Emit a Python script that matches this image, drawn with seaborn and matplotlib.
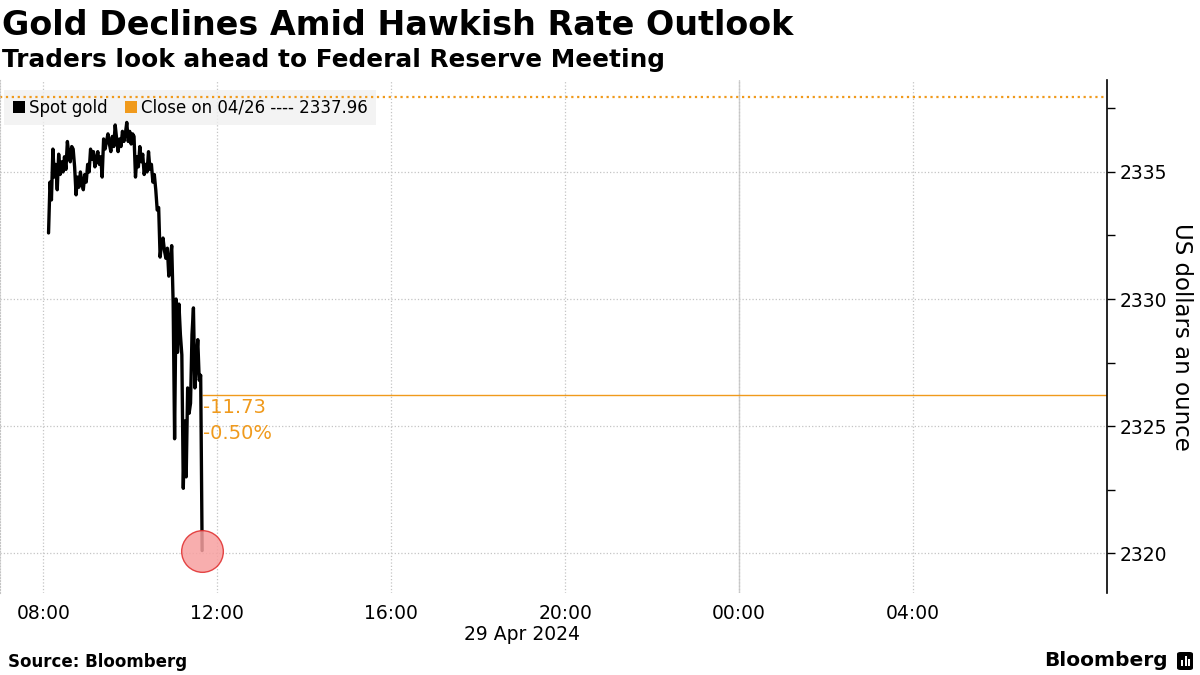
import datetime as dt
import matplotlib
matplotlib.use('Agg')
import matplotlib.pyplot as plt
import matplotlib.dates as mdates
from matplotlib.patches import Patch, FancyBboxPatch, Rectangle
import seaborn as sns

# --- data (spot gold, 2-minute steps from 08:07) ---
gold = [
    2332.6, 2334.6, 2333.9, 2335.9, 2334.8, 2335.3, 2334.3, 2335.7, 2334.9, 2335.4,
    2335.0, 2335.6, 2335.1, 2336.2, 2335.7, 2335.4, 2336.0, 2335.9, 2335.2, 2334.1,
    2334.8, 2334.4, 2335.0, 2334.6, 2334.3, 2334.9, 2334.6, 2335.3, 2335.0, 2335.9,
    2335.5, 2335.8, 2335.2, 2335.5, 2335.8, 2335.3, 2335.6, 2334.8, 2336.3, 2335.9,
    2336.2, 2336.5, 2336.1, 2335.8, 2336.4, 2336.0, 2336.85, 2336.3, 2335.8, 2336.3,
    2336.0, 2336.6, 2336.2, 2336.5, 2336.95, 2336.2, 2336.6, 2336.1, 2336.5, 2336.4,
    2334.8, 2335.6, 2335.2, 2336.0, 2335.4, 2335.7, 2334.9, 2335.3, 2335.0, 2335.8,
    2335.1, 2335.3, 2334.6, 2334.9, 2334.3, 2333.5, 2333.6, 2331.65, 2332.2, 2332.4,
    2331.9, 2331.6, 2332.0, 2330.9, 2331.5, 2332.1, 2329.85, 2324.5, 2330.0, 2327.9,
    2329.8, 2328.6, 2327.8, 2322.55, 2325.2, 2323.0, 2326.5, 2325.5, 2325.9, 2328.6,
    2329.65, 2326.5, 2327.5, 2328.4, 2326.8, 2327.0, 2320.1,
]
start_time = dt.datetime(2024, 4, 29, 8, 7)
step_minutes = 2
prev_close = 2337.96
change_level = 2326.23
change_abs = '-11.73'
change_pct = '-0.50%'

x_ticks = [dt.datetime(2024, 4, 29, h) for h in (8, 12, 16, 20)] + \
          [dt.datetime(2024, 4, 30, h) for h in (0, 4)]
y_major = [2320, 2325, 2330, 2335]
y_minor = [2322.5, 2327.5, 2332.5, 2337.5]

times = [start_time + dt.timedelta(minutes=step_minutes * i) for i in range(len(gold))]
x_min = dt.datetime(2024, 4, 29, 7, 0)
x_max = dt.datetime(2024, 4, 30, 8, 28)

ORANGE = '#f09a1c'

sns.set_style('white')
plt.rcParams['font.family'] = ['DejaVu Sans']
plt.rcParams['text.color'] = 'black'
plt.rcParams['axes.labelcolor'] = 'black'
plt.rcParams['xtick.color'] = 'black'
plt.rcParams['ytick.color'] = 'black'

fig = plt.figure(figsize=(12, 6.75), dpi=100)
ax = fig.add_axes([0.0, 0.1215, 0.9225, 0.76])

# grid
ax.grid(True, which='major', linestyle=':', color='#c4c4c4', linewidth=0.9)
ax.axvline(dt.datetime(2024, 4, 30, 0), color='#d0d0d0', linewidth=1.0, zorder=0.5)

sns.lineplot(x=times, y=gold, ax=ax, color='black', linewidth=2.4, zorder=3)

ax.axhline(prev_close, color=ORANGE, linestyle=':', linewidth=1.6, zorder=2)
ax.hlines(change_level, times[-1], x_max, color=ORANGE, linewidth=1.0, zorder=2)
ax.scatter([times[-1]], [gold[-1]], s=900, facecolor='#f7a0a0', edgecolor='#e02a2a',
           linewidth=1.0, alpha=0.85, zorder=4)

ax.text(times[-1] + dt.timedelta(minutes=1), change_level - 0.5, change_abs,
        color=ORANGE, fontsize=14, va='center', ha='left')
ax.text(times[-1] + dt.timedelta(minutes=1), change_level - 1.52, change_pct,
        color=ORANGE, fontsize=14, va='center', ha='left')

ax.set_xlim(x_min, x_max)
ax.set_ylim(2318.43, 2338.62)

ax.set_xticks(x_ticks)
ax.xaxis.set_major_formatter(mdates.DateFormatter('%H:%M'))
ax.set_yticks(y_major)
ax.set_yticks(y_minor, minor=True)
ax.yaxis.tick_right()
ax.yaxis.set_label_position('right')
ax.tick_params(axis='y', which='major', length=6, width=1, color='black',
               labelsize=13.5, pad=3, direction='out')
ax.tick_params(axis='y', which='minor', length=6, width=1, color='black', direction='out')
ax.tick_params(axis='x', length=4, color='#cccccc', labelsize=13.5, pad=4)
ax.set_ylabel('US dollars an ounce', fontsize=16.5, rotation=270, labelpad=19)
ax.set_xlabel('')

for side in ('top', 'bottom'):
    ax.spines[side].set_visible(False)
ax.spines['left'].set_linestyle(':')
ax.spines['left'].set_color('#c4c4c4')
ax.spines['right'].set_color('black')
ax.spines['right'].set_linewidth(1.2)

# legend
handles = [Patch(facecolor='black', edgecolor='none'),
           Patch(facecolor=ORANGE, edgecolor='none')]
labels = ['Spot gold', f'Close on 04/26 ---- {prev_close:.2f}']
leg = ax.legend(handles, labels, loc='upper left', bbox_to_anchor=(0.004, 0.98),
                ncol=2, frameon=True, fontsize=12, handlelength=0.75, handleheight=0.75,
                handletextpad=0.25, columnspacing=1.0, borderpad=0.5, borderaxespad=0.0)
leg.get_frame().set_facecolor('#f0f0f0')
leg.get_frame().set_edgecolor('none')
leg.get_frame().set_boxstyle('square', pad=0.0)
leg.set_zorder(1.5)

# titles and footer
fig.text(0.002, 0.962, 'Gold Declines Amid Hawkish Rate Outlook', fontsize=24,
         fontweight='bold', va='center', ha='left')
fig.text(0.002, 0.911, 'Traders look ahead to Federal Reserve Meeting', fontsize=17.8,
         fontweight='bold', va='center', ha='left')
fig.text(522 / 1200, 1 - 634 / 675, '29 Apr 2024', fontsize=13.5, ha='center', va='center')
fig.text(8 / 1200, 1 - 662 / 675, 'Source: Bloomberg', fontsize=12, fontweight='bold',
         ha='left', va='center')
fig.text(1168 / 1200, 1 - 661 / 675, 'Bloomberg', fontsize=14.5, fontweight='bold',
         ha='right', va='center')

icon = FancyBboxPatch((1177 / 1200, 1 - 670 / 675), 16 / 1200, 18 / 675,
                      boxstyle='round,pad=0.0,rounding_size=0.003',
                      transform=fig.transFigure, facecolor='black', edgecolor='none')
fig.patches.append(icon)
for bx, bh in ((1181, 6), (1184.5, 10), (1188, 7)):
    fig.patches.append(Rectangle((bx / 1200, 1 - 666 / 675), 2 / 1200, bh / 675,
                                 transform=fig.transFigure, facecolor='white',
                                 edgecolor='none'))

fig.savefig('out.png', dpi=100)
